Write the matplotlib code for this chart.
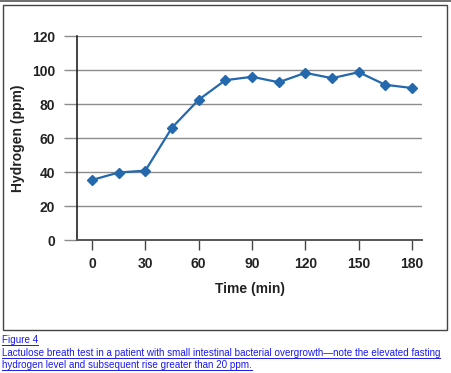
import matplotlib
matplotlib.use("Agg")
import matplotlib.pyplot as plt
from matplotlib.patches import Rectangle
from matplotlib.lines import Line2D

# -----------------------------
# Data
# -----------------------------
time_min = [0, 15, 30, 45, 60, 75, 90, 105, 120, 135, 150, 165, 180]
hydrogen_ppm = [35.3, 39.7, 40.8, 66.1, 82.5, 94.0, 96.0, 92.8, 98.3, 95.2, 98.7, 91.3, 89.4]
x_ticks = [0, 30, 60, 90, 120, 150, 180]
y_ticks = [0, 20, 40, 60, 80, 100, 120]

caption_title = "Figure 4"
caption_lines = [
    "Lactulose breath test in a patient with small intestinal bacterial overgrowth\u2014note the elevated fasting",
    "hydrogen level and subsequent rise greater than 20 ppm.",
]

W, H = 452, 373
plt.rcParams['font.family'] = ['Liberation Sans', 'DejaVu Sans']

fig = plt.figure(figsize=(W / 100, H / 100), dpi=100)

# outer frame + top line
fig.patches.append(Rectangle((3 / W, 1 - 330 / H), 444 / W, 325 / H,
                             transform=fig.transFigure, fill=False,
                             edgecolor="#444444", linewidth=1.0))
fig.lines.append(Line2D([0, 1], [1 - 0.8 / H, 1 - 0.8 / H], transform=fig.transFigure,
                        color="#555555", linewidth=1.2))

ax = fig.add_axes([77 / W, 1 - 240 / H, 345 / W, 204 / H])
px_per_min = 320 / 180
ax.set_xlim(-15 / px_per_min, -15 / px_per_min + 345 / px_per_min)
ax.set_ylim(0, 120)

ax.plot(time_min, hydrogen_ppm, color="#2468ad", linewidth=1.6,
        marker="D", markersize=5.6, markerfacecolor="#2468ad",
        markeredgecolor="#2468ad", zorder=3)

ax.set_yticks(y_ticks)
ax.set_xticks(x_ticks)
ax.grid(axis="y", color="#8c8c8c", linewidth=1.0)
ax.set_axisbelow(True)
for s in ["top", "right"]:
    ax.spines[s].set_visible(False)
ax.spines["left"].set_color("#222222")
ax.spines["left"].set_linewidth(1.2)
ax.spines["bottom"].set_color("#555555")
ax.spines["bottom"].set_linewidth(1.4)

ax.tick_params(axis="y", length=9.4, width=1.0, color="#8c8c8c", pad=6.5,
               labelsize=10, labelcolor="#222222")
ax.tick_params(axis="x", length=7.2, width=1.0, color="#444444", pad=5,
               labelsize=10, labelcolor="#222222")
for lab in ax.get_xticklabels() + ax.get_yticklabels():
    lab.set_fontweight("bold")

fig.text(18 / W, 1 - 138 / H, "Hydrogen (ppm)", rotation=90, ha="center", va="center",
         fontsize=10, fontweight="bold", color="#222222")
fig.text(250 / W, 1 - 289 / H, "Time (min)", ha="center", va="center",
         fontsize=10, fontweight="bold", color="#222222")

# caption in link blue, underlined
blue = "#1a1aee"
caps = [caption_title] + caption_lines
ys = [340, 353, 365]
texts = []
for t, yy in zip(caps, ys):
    texts.append(fig.text(2 / W, 1 - yy / H, t, ha="left", va="center",
                          fontsize=7.1, color=blue))

fig.canvas.draw()
r = fig.canvas.get_renderer()
for t in texts:
    bb = t.get_window_extent(r)
    yline = (bb.y0 + 0.5) / H
    fig.lines.append(Line2D([bb.x0 / W, bb.x1 / W], [yline, yline],
                            transform=fig.transFigure, color=blue, linewidth=0.7))

fig.savefig("out.png", dpi=100)
